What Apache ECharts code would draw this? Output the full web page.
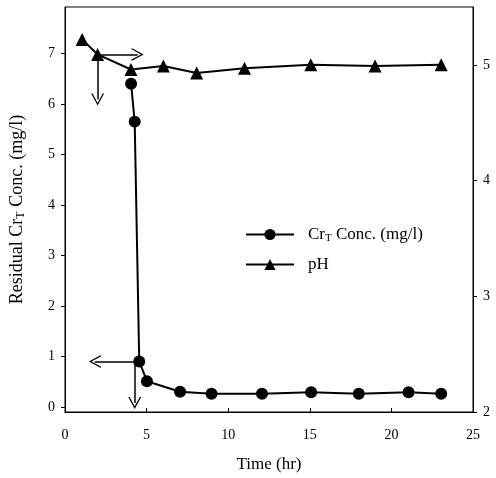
<!DOCTYPE html>
<html>
<head>
<meta charset="utf-8">
<script src="https://cdn.jsdelivr.net/npm/echarts@6/dist/echarts.min.js"></script>
<style>
  html, body { margin: 0; padding: 0; background: #fff; }
  #chart { width: 496px; height: 478px; }
</style>
</head>
<body>
<div id="chart"></div>
<script>
// time (hr) and values
const crTime = [4.05, 4.27, 4.55, 5.02, 7.05, 8.98, 12.07, 15.08, 18.0, 21.05, 23.05]
const crConc = [6.40, 5.65, 0.90, 0.51, 0.30, 0.26, 0.26, 0.29, 0.26, 0.29, 0.26]
const phTime = [1.05, 2.0, 4.04, 6.03, 8.07, 11.0, 15.06, 19.0, 23.05]
const phValue = [5.22, 5.09, 4.96, 4.99, 4.93, 4.97, 5.0, 4.99, 5.0]
const xTicks = [0, 5, 10, 15, 20, 25]
const crTicks = [0, 1, 2, 3, 4, 5, 6, 7]
const phTicks = [2, 3, 4, 5]

// annotation arrows: [from, to] in data units
const crArrows = [
  [[4.55, 0.90], [1.83, 0.90]],
  [[4.27, 0.90], [4.27, 0.08]]
]
const phArrows = [
  [[2.0, 5.09], [4.45, 5.09]],
  [[2.0, 5.09], [2.0, 4.70]]
]

const font = 'Liberation Serif'
// open chevron pointing up, markLine rotates it along the line
const chevron = 'path://M5,0 L10,10 L8.9,10 L5,2.2 L1.1,10 L0,10 Z'

function pairs(xs, ys) {
  return xs.map((x, i) => [x, ys[i]])
}

function arrowLines(list) {
  return list.map(a => [{ coord: a[0] }, { coord: a[1] }])
}

const subRich = {
  a: { fontFamily: font, fontSize: 18, color: '#000' },
  s: { fontFamily: font, fontSize: 12, color: '#000', verticalAlign: 'bottom', padding: [8, 0, 0, 0] }
}

const myChart = echarts.init(document.getElementById('chart'))
myChart.setOption({
  animation: false,
  backgroundColor: '#fff',
  textStyle: { fontFamily: font, color: '#000' },
  grid: {
    left: 63, right: 23, top: 7, bottom: 65,
    show: true, borderColor: '#000', borderWidth: 1
  },
  legend: {
    orient: 'vertical',
    left: 240,
    top: 221,
    itemWidth: 48,
    itemHeight: 14,
    itemGap: 12,
    data: ['cr', 'ph'],
    formatter: name => name === 'cr'
      ? '{p|}{a|Cr}{s|T}{a| Conc. (mg/l)}'
      : '{p|}{a|pH}',
    textStyle: {
      rich: {
        p: { width: 9 },
        a: { fontFamily: font, fontSize: 17, color: '#000' },
        s: { fontFamily: font, fontSize: 11, color: '#000', verticalAlign: 'bottom', padding: [8, 0, 0, 0] }
      }
    }
  },
  xAxis: {
    type: 'value',
    min: 0, max: 25, interval: 5,
    name: 'Time (hr)',
    nameLocation: 'middle',
    nameGap: 44,
    nameTextStyle: { fontFamily: font, fontSize: 17, color: '#000' },
    axisLine: { onZero: false, lineStyle: { color: '#000', width: 1 } },
    axisTick: { inside: true, length: 4, lineStyle: { color: '#000' } },
    axisLabel: {
      margin: 16, fontFamily: font, fontSize: 14, color: '#000',
      formatter: v => xTicks.includes(v) ? String(v) : ''
    },
    splitLine: { show: false }
  },
  yAxis: [{
    type: 'value',
    min: -0.1, max: 7.92,
    name: '{a|Residual Cr}{s|T}{a| Conc. (mg/l)}',
    nameLocation: 'middle',
    nameGap: 38,
    nameTextStyle: { rich: subRich },
    axisLine: { show: true, lineStyle: { color: '#000', width: 1 } },
    axisTick: { length: 4, customValues: crTicks, lineStyle: { color: '#000' } },
    axisLabel: { margin: 10, fontFamily: font, fontSize: 14, color: '#000', customValues: crTicks },
    splitLine: { show: false }
  }, {
    type: 'value',
    position: 'right',
    min: 2, max: 5.5, interval: 1,
    axisLine: { show: true, lineStyle: { color: '#000', width: 1 } },
    axisTick: { length: 4, customValues: phTicks, lineStyle: { color: '#000' } },
    axisLabel: { margin: 10, fontFamily: font, fontSize: 14, color: '#000', customValues: phTicks },
    splitLine: { show: false }
  }],
  series: [{
    name: 'cr',
    type: 'line',
    yAxisIndex: 0,
    data: pairs(crTime, crConc),
    symbol: 'circle',
    symbolSize: 12,
    lineStyle: { color: '#000', width: 2 },
    itemStyle: { color: '#000' },
    markLine: {
      silent: true,
      symbol: ['none', chevron],
      symbolSize: [13, 12],
      label: { show: false },
      lineStyle: { color: '#000', width: 1.5, type: 'solid' },
      data: arrowLines(crArrows)
    },
    z: 3
  }, {
    name: 'ph',
    type: 'line',
    yAxisIndex: 1,
    data: pairs(phTime, phValue),
    symbol: 'triangle',
    symbolSize: 13,
    lineStyle: { color: '#000', width: 2 },
    itemStyle: { color: '#000' },
    markLine: {
      silent: true,
      symbol: ['none', chevron],
      symbolSize: [13, 12],
      label: { show: false },
      lineStyle: { color: '#000', width: 1.5, type: 'solid' },
      data: arrowLines(phArrows)
    },
    z: 3
  }]
})
</script>
</body>
</html>
